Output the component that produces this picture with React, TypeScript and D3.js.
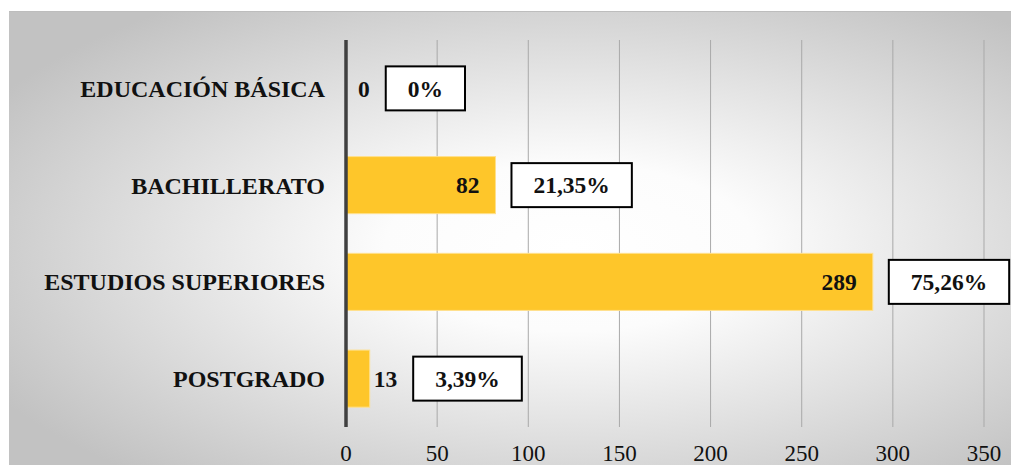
import React, { useEffect, useRef } from 'react';
import * as d3 from 'd3';

const categories = ['EDUCACIÓN BÁSICA', 'BACHILLERATO', 'ESTUDIOS SUPERIORES', 'POSTGRADO'];
const values = [0, 82, 289, 13];
const percentLabels = ['0%', '21,35%', '75,26%', '3,39%'];
const xTicks = [0, 50, 100, 150, 200, 250, 300, 350];

const W = 1011;
const H = 465;
const FONT = "'Liberation Serif', 'Times New Roman', serif";

export default function App() {
  const ref = useRef<SVGSVGElement>(null);

  useEffect(() => {
    const svg = d3.select(ref.current);
    svg.selectAll('*').remove();

    const defs = svg.append('defs');
    const grad = defs
      .append('radialGradient')
      .attr('id', 'bgGrad')
      .attr('cx', '56%')
      .attr('cy', '52%')
      .attr('r', '66%');
    grad.append('stop').attr('offset', '0%').attr('stop-color', '#ffffff');
    grad.append('stop').attr('offset', '28%').attr('stop-color', '#fcfcfc');
    grad.append('stop').attr('offset', '100%').attr('stop-color', '#c2c2c2');

    // background
    svg
      .append('rect')
      .attr('x', 9)
      .attr('y', 11)
      .attr('width', W - 9)
      .attr('height', H - 11)
      .attr('fill', 'url(#bgGrad)');
    svg
      .append('line')
      .attr('x1', 9)
      .attr('x2', W)
      .attr('y1', 11.5)
      .attr('y2', 11.5)
      .attr('stroke', '#bdbdbd')
      .attr('stroke-width', 1);

    const x = d3.scaleLinear().domain([0, 350]).range([346, 984]);
    const y = d3
      .scaleBand<string>()
      .domain(categories)
      .range([40, 427])
      .paddingInner(0.41)
      .paddingOuter(0.205);

    // gridlines
    svg
      .append('g')
      .selectAll('line')
      .data(xTicks)
      .join('line')
      .attr('x1', (d) => x(d))
      .attr('x2', (d) => x(d))
      .attr('y1', 40)
      .attr('y2', 427)
      .attr('stroke', '#a9a9a9')
      .attr('stroke-width', 1);

    // tick labels
    svg
      .append('g')
      .selectAll('text')
      .data(xTicks)
      .join('text')
      .attr('x', (d) => x(d))
      .attr('y', 461)
      .attr('text-anchor', 'middle')
      .attr('font-family', FONT)
      .attr('font-size', 23)
      .attr('fill', '#111')
      .text((d) => String(d));

    // bars
    const data = categories.map((c, i) => ({ c, v: values[i], p: percentLabels[i] }));
    svg
      .append('g')
      .selectAll('rect')
      .data(data.filter((d) => d.v > 0))
      .join('rect')
      .attr('x', x(0))
      .attr('y', (d) => y(d.c)!)
      .attr('width', (d) => x(d.v) - x(0))
      .attr('height', y.bandwidth())
      .attr('fill', '#FEC62A')
      .attr('stroke', '#FFE08C')
      .attr('stroke-width', 1);

    // axis line
    svg
      .append('line')
      .attr('x1', x(0))
      .attr('x2', x(0))
      .attr('y1', 40)
      .attr('y2', 427)
      .attr('stroke', '#404040')
      .attr('stroke-width', 3.5);

    // category labels
    svg
      .append('g')
      .selectAll('text')
      .data(categories)
      .join('text')
      .attr('x', 325)
      .attr('y', (d) => y(d)! + y.bandwidth() / 2)
      .attr('dy', '0.35em')
      .attr('text-anchor', 'end')
      .attr('font-family', FONT)
      .attr('font-weight', 'bold')
      .attr('font-size', 24)
      .attr('fill', '#111')
      .text((d) => d);

    // value labels and percentage boxes
    data.forEach((d) => {
      const cy = y(d.c)! + y.bandwidth() / 2;
      const barEnd = x(d.v);
      const inside = barEnd - x(0) > 60;
      const vt = svg
        .append('text')
        .attr('y', cy)
        .attr('dy', '0.35em')
        .attr('font-family', FONT)
        .attr('font-weight', 'bold')
        .attr('font-size', 23.5)
        .attr('fill', '#111')
        .text(String(d.v));
      let anchorX: number;
      if (inside) {
        vt.attr('x', barEnd - 16).attr('text-anchor', 'end');
        anchorX = barEnd;
      } else {
        const lx = Math.max(barEnd, x(0) + 8) + 4;
        vt.attr('x', lx).attr('text-anchor', 'start');
        const len = (vt.node() as SVGTextElement).getComputedTextLength();
        anchorX = lx + len;
      }
      const boxLeft = anchorX + 16;
      const g = svg.append('g');
      const rect = g.append('rect');
      const pt = g
        .append('text')
        .attr('y', cy)
        .attr('dy', '0.35em')
        .attr('text-anchor', 'middle')
        .attr('font-family', FONT)
        .attr('font-weight', 'bold')
        .attr('font-size', 23.5)
        .attr('fill', '#111')
        .text(d.p);
      const tw = (pt.node() as SVGTextElement).getComputedTextLength();
      const bw = tw + 44;
      pt.attr('x', boxLeft + bw / 2);
      rect
        .attr('x', boxLeft)
        .attr('y', cy - 22)
        .attr('width', bw)
        .attr('height', 44)
        .attr('fill', '#ffffff')
        .attr('stroke', '#000')
        .attr('stroke-width', 2);
    });
  }, []);

  return (
    <svg
      ref={ref}
      width={W}
      height={H}
      style={{ position: 'absolute', left: 0, top: 0, display: 'block' }}
    />
  );
}
